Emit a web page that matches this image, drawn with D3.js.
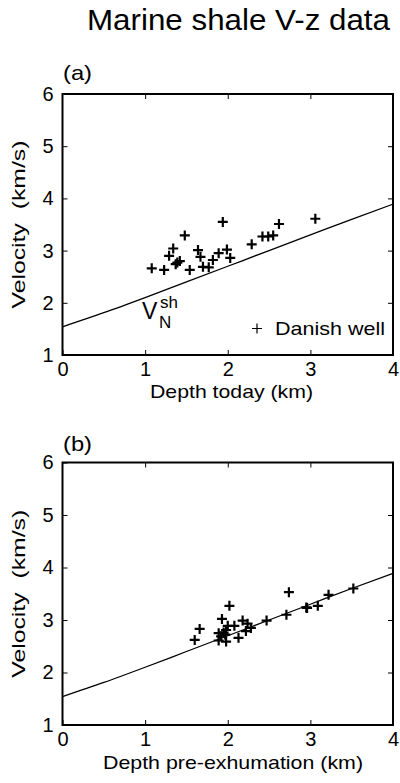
<!DOCTYPE html>
<html>
<head>
<meta charset="utf-8">
<script src="https://cdn.jsdelivr.net/npm/d3@7"></script>
<style>
  body { margin: 0; background: #fff; }
  text { font-family: "Liberation Sans", Arial, Helvetica, sans-serif; fill: #000; }
</style>
</head>
<body>
<script>
'use strict';

// page size
let width = 400,
  height = 783

// V_N^sh model curve
const curveDepth = [0, 0.5, 1, 1.5, 2, 2.5, 3, 3.5, 4];
const curveVel = [1.54, 1.81, 2.10, 2.40, 2.70, 3.00, 3.30, 3.60, 3.89];

// (a) Danish well, depth today
const depthToday = [1.08, 1.23, 1.29, 1.34, 1.37, 1.39, 1.42, 1.48, 1.54, 1.64, 1.67, 1.70,
  1.77, 1.82, 1.89, 1.94, 1.99, 2.03, 2.29, 2.42, 2.49, 2.55, 2.62, 3.06];
const velToday = [2.66, 2.63, 2.90, 3.04, 2.74, 2.77, 2.80, 3.29, 2.63, 3.01, 2.88, 2.69,
  2.68, 2.82, 2.95, 3.55, 3.02, 2.86, 3.12, 3.27, 3.27, 3.29, 3.51, 3.61];

// (b) Danish well, depth pre-exhumation
const depthPre = [1.60, 1.66, 2.02, 1.93, 1.89, 1.92, 1.95, 1.97, 1.89, 1.98, 2.00, 2.08,
  2.13, 2.18, 2.22, 2.24, 2.28, 2.47, 2.71, 2.74, 2.95, 2.96, 3.09, 3.22, 3.52, 1.98];
const velPre = [2.62, 2.83, 3.27, 3.02, 2.75, 2.69, 2.76, 2.72, 2.61, 2.59, 2.89, 2.89,
  2.66, 2.99, 2.79, 2.93, 2.85, 2.99, 3.10, 3.53, 3.24, 3.23, 3.27, 3.48, 3.60, 2.81];

const xTicks = [0, 1, 2, 3, 4];
const yTicks = [1, 2, 3, 4, 5, 6];

const svg = d3.select("body")
  .append("svg")
  .attr("width", width)
  .attr("height", height);

// title
svg.append("text")
  .attr("x", 87)
  .attr("y", 30)
  .attr("textLength", 303)
  .attr("lengthAdjust", "spacingAndGlyphs")
  .style("font-size", "29px")
  .text("Marine shale V-z data");

drawPanel({
  top: 94, bottom: 355, tag: "(a)", tagY: 80,
  xs: depthToday, ys: velToday,
  xTitle: "Depth today (km)", xTitleX: 150, xTitleLen: 163, xTitleY: 398,
  label: true, legend: true
});

drawPanel({
  top: 462.5, bottom: 725, tag: "(b)", tagY: 451,
  xs: depthPre, ys: velPre,
  xTitle: "Depth pre-exhumation (km)", xTitleX: 103, xTitleLen: 260, xTitleY: 769,
  label: false, legend: false
});

// draws one velocity-depth panel
function drawPanel(p) {
  let left = 62.5, right = 393;
  let x = d3.scaleLinear().domain([0, 4]).range([left, right]);
  let y = d3.scaleLinear().domain([1, 6]).range([p.bottom, p.top]);
  let g = svg.append("g");

  // axes with inward ticks
  g.append("g")
    .attr("transform", "translate(0," + p.bottom + ")")
    .call(d3.axisBottom(x).tickValues(xTicks).tickSize(-5).tickPadding(7).tickFormat(d3.format("d")));
  g.append("g")
    .attr("transform", "translate(" + left + ",0)")
    .call(d3.axisLeft(y).tickValues(yTicks).tickSize(-5).tickPadding(9).tickFormat(d3.format("d")));
  g.append("g")
    .attr("transform", "translate(0," + p.top + ")")
    .call(d3.axisTop(x).tickValues([1, 2, 3]).tickSize(-5).tickFormat(""));
  g.append("g")
    .attr("transform", "translate(" + right + ",0)")
    .call(d3.axisRight(y).tickValues([2, 3, 4, 5]).tickSize(-5).tickFormat(""));

  g.selectAll(".domain").remove();
  g.selectAll(".tick line").attr("stroke", "#000").attr("stroke-width", 1);
  g.selectAll(".tick text")
    .style("font-size", "20px")
    .style("font-family", "'Liberation Sans', Arial, sans-serif")
    .attr("fill", "#000");

  // frame
  g.append("rect")
    .attr("x", left)
    .attr("y", p.top)
    .attr("width", right - left)
    .attr("height", p.bottom - p.top)
    .attr("fill", "none")
    .attr("stroke", "#000")
    .attr("stroke-width", 2);

  // panel tag
  g.append("text")
    .attr("x", 63)
    .attr("y", p.tagY)
    .attr("textLength", 29)
    .attr("lengthAdjust", "spacingAndGlyphs")
    .style("font-size", "21px")
    .text(p.tag);

  // axis titles
  g.append("text")
    .attr("x", p.xTitleX)
    .attr("y", p.xTitleY)
    .attr("textLength", p.xTitleLen)
    .attr("lengthAdjust", "spacingAndGlyphs")
    .style("font-size", "19px")
    .text(p.xTitle);

  let mid = (p.top + p.bottom) / 2;
  g.append("text")
    .attr("transform", "translate(25," + (mid + 84) + ") rotate(-90)")
    .attr("textLength", 168)
    .attr("lengthAdjust", "spacingAndGlyphs")
    .style("font-size", "19px")
    .text("Velocity\u00a0\u00a0(km/s)");

  // model curve
  let line = d3.line()
    .x(d => x(d[0]))
    .y(d => y(d[1]))
    .curve(d3.curveMonotoneX);
  g.append("path")
    .datum(curveDepth.map((d, i) => [d, curveVel[i]]))
    .attr("d", line)
    .attr("fill", "none")
    .attr("stroke", "#000")
    .attr("stroke-width", 1.3);

  // data crosses
  let s = 5;
  g.append("g")
    .selectAll("path")
    .data(p.xs.map((d, i) => [d, p.ys[i]]))
    .join("path")
    .attr("d", d => {
      let cx = x(d[0]), cy = y(d[1]);
      return "M" + (cx - s) + "," + cy + "H" + (cx + s) + "M" + cx + "," + (cy - s) + "V" + (cy + s);
    })
    .attr("stroke", "#000")
    .attr("stroke-width", 2.2);

  if (p.label) {
    g.append("text").attr("x", 142).attr("y", 318.5).style("font-size", "23px").text("V");
    g.append("text").attr("x", 160).attr("y", 308).style("font-size", "17px").text("sh");
    g.append("text").attr("x", 159).attr("y", 327.5).style("font-size", "17px").text("N");
  }

  if (p.legend) {
    g.append("path")
      .attr("d", "M" + 252 + "," + 328.5 + "H" + 262 + "M" + 257 + "," + 323.5 + "V" + 333.5)
      .attr("stroke", "#000")
      .attr("stroke-width", 1.2);
    g.append("text")
      .attr("x", 275)
      .attr("y", 335)
      .attr("textLength", 110)
      .attr("lengthAdjust", "spacingAndGlyphs")
      .style("font-size", "19px")
      .text("Danish well");
  }
}
</script>
</body>
</html>
